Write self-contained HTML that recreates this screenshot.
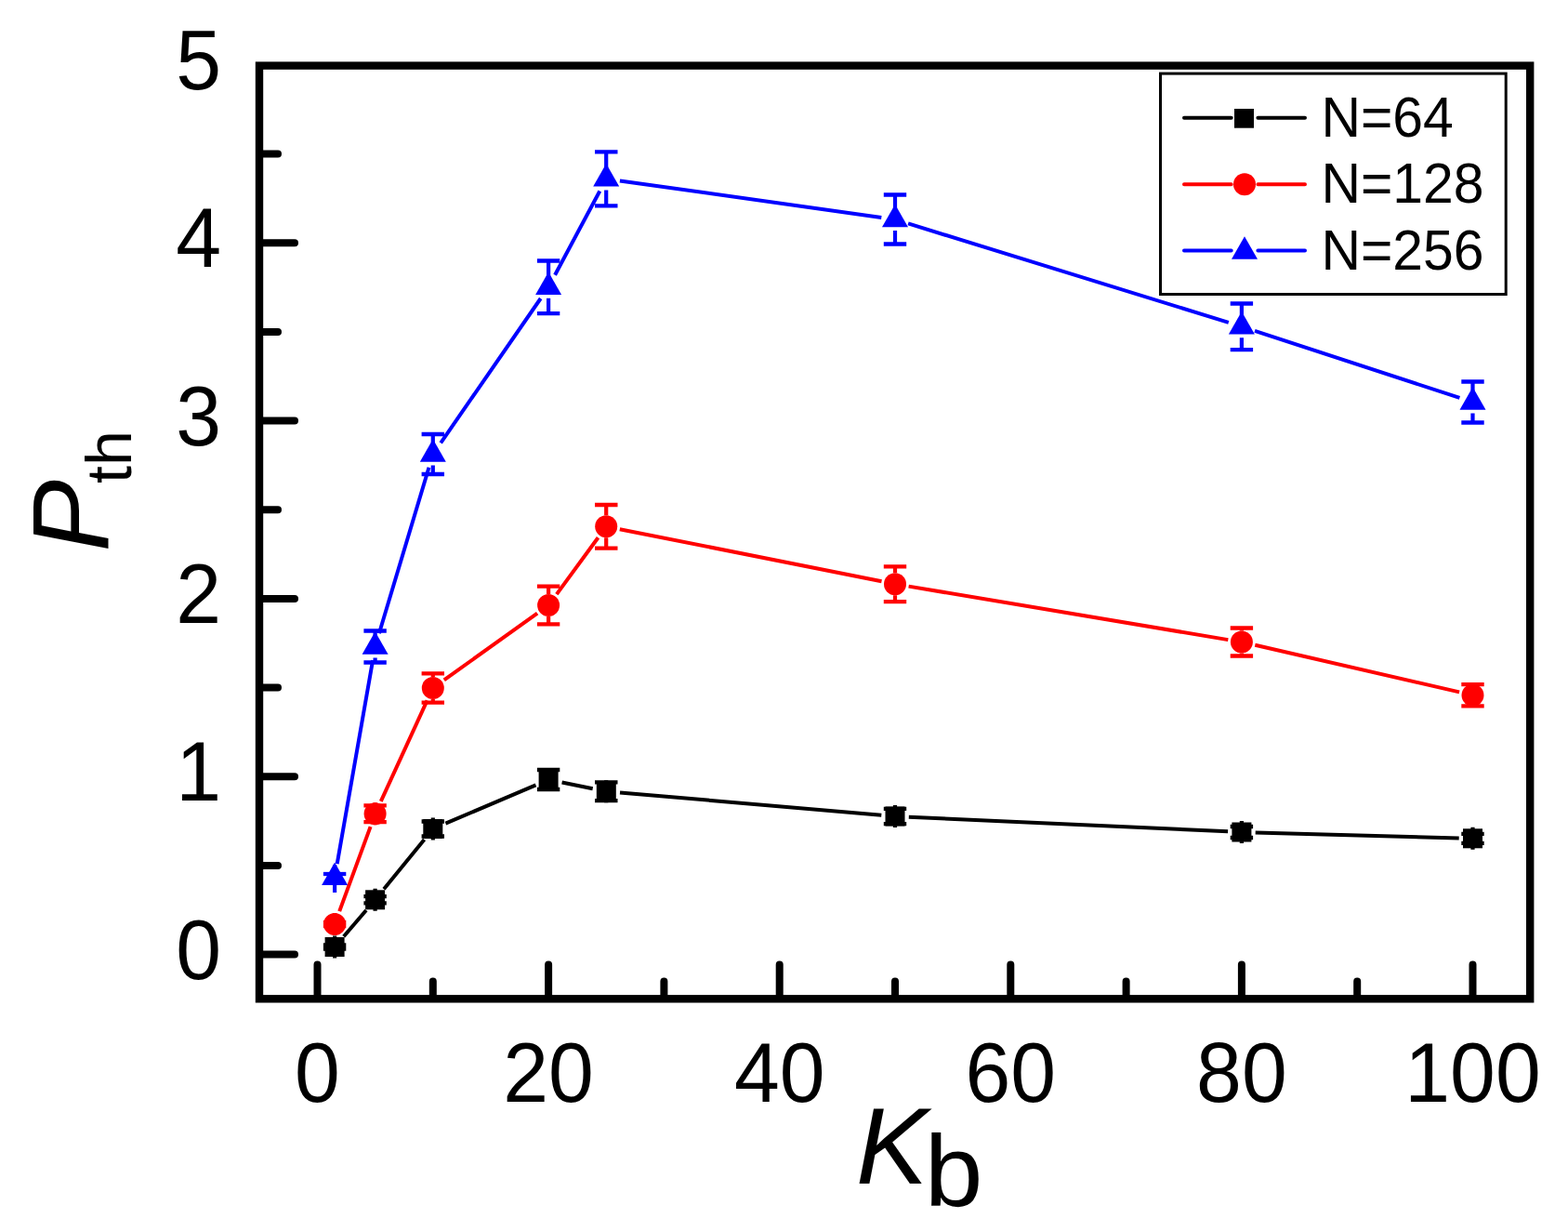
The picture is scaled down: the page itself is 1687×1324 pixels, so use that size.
<!DOCTYPE html><html><head><meta charset="utf-8"><style>html,body{margin:0;padding:0;background:#fff;}svg{display:block;}</style></head><body>
<svg width="1687" height="1324" viewBox="0 0 1687 1324">
<rect x="0" y="0" width="1687" height="1324" fill="#fff"/>
<path d="M369.8 1007.3L394.0 979.0M413.0 956.3L456.5 903.0M479.4 885.7L576.5 844.3M604.6 841.5L637.7 848.2M667.0 852.5L948.3 876.7M977.8 878.7L1321.1 894.3M1350.7 895.4L1569.7 901.4" stroke="#000" stroke-width="4" fill="none" stroke-linecap="butt"/>
<path d="M365.2 980.1L398.6 889.1M409.8 861.8L459.6 753.4M477.8 731.4L578.1 659.6M598.9 639.1L643.5 578.2M666.8 569.2L948.5 625.3M977.6 630.6L1321.3 688.1M1350.3 693.8L1570.1 744.4" stroke="#f00" stroke-width="4" fill="none" stroke-linecap="butt"/>
<path d="M362.7 929.1L401.1 710.1M407.9 681.3L461.5 502.7M474.2 476.3L581.7 321.0M597.1 295.7L645.3 205.5M666.9 194.5L948.3 233.9M977.1 240.4L1321.8 346.9M1350.0 355.9L1570.4 427.9" stroke="#00f" stroke-width="4" fill="none" stroke-linecap="butt"/>
<path d="M360.1 1006.5V1016.5M360.1 1030.5V1020.5M403.6 955.8V964.2M403.6 979.8V971.4M465.8 879.5V883.5M465.8 903.5V899.5M590.1 826.5V828.0M590.1 850.5V849.0M652.2 839.2V841.3M652.2 863.2V861.1M963.0 866.0V869.9M963.0 890.0V886.1M1335.9 883.0V889.0M1335.9 907.0V901.0M1584.5 889.8V896.8M1584.5 913.8V906.8" stroke="#000" stroke-width="4.2" fill="none" stroke-linecap="butt"/>
<path d="M347.9 1016.5H372.3M347.9 1020.5H372.3M391.4 964.2H415.8M391.4 971.4H415.8M453.6 883.5H478.0M453.6 899.5H478.0M577.9 828.0H602.3M577.9 849.0H602.3M640.0 841.3H664.5M640.0 861.1H664.5M950.8 869.9H975.2M950.8 886.1H975.2M1323.7 889.0H1348.1M1323.7 901.0H1348.1M1572.3 896.8H1596.7M1572.3 906.8H1596.7" stroke="#000" stroke-width="4.3" fill="none" stroke-linecap="butt"/>
<path d="M360.1 982.0V992.0M360.1 1006.0V996.0M403.6 863.2V866.3M403.6 887.2V884.1M465.8 728.0V724.3M465.8 752.0V755.7M590.1 639.0V630.7M590.1 663.0V671.3M652.2 554.3V543.0M652.2 578.3V589.6M963.0 616.2V609.3M963.0 640.2V647.1M1335.9 678.5V675.5M1335.9 702.5V705.5M1584.5 735.7V736.1M1584.5 759.7V759.3" stroke="#f00" stroke-width="4.2" fill="none" stroke-linecap="butt"/>
<path d="M347.9 992.0H372.3M347.9 996.0H372.3M391.4 866.3H415.8M391.4 884.1H415.8M453.6 724.3H478.0M453.6 755.7H478.0M577.9 630.7H602.3M577.9 671.3H602.3M640.0 543.0H664.5M640.0 589.6H664.5M950.8 609.3H975.2M950.8 647.1H975.2M1323.7 675.5H1348.1M1323.7 705.5H1348.1M1572.3 736.1H1596.7M1572.3 759.3H1596.7" stroke="#f00" stroke-width="4.3" fill="none" stroke-linecap="butt"/>
<path d="M403.6 683.5V678.5M403.6 707.5V712.5M465.8 476.5V467.0M465.8 500.5V510.0M590.1 296.8V280.5M590.1 320.8V337.1M652.2 180.4V163.4M652.2 204.4V221.4M963.0 224.0V209.5M963.0 248.0V262.5M1335.9 339.3V326.5M1335.9 363.3V376.1M1584.5 420.5V410.5M1584.5 444.5V454.5" stroke="#00f" stroke-width="4.2" fill="none" stroke-linecap="butt"/>
<path d="M391.4 678.5H415.8M391.4 712.5H415.8M453.6 467.0H478.0M453.6 510.0H478.0M577.9 280.5H602.3M577.9 337.1H602.3M640.0 163.4H664.5M640.0 221.4H664.5M950.8 209.5H975.2M950.8 262.5H975.2M1323.7 326.5H1348.1M1323.7 376.1H1348.1M1572.3 410.5H1596.7M1572.3 454.5H1596.7" stroke="#00f" stroke-width="4.3" fill="none" stroke-linecap="butt"/>
<path d="M360.1 930V960" stroke="#00f" stroke-width="4.2" fill="none" stroke-linecap="butt"/><path d="M347.9 940H372.3" stroke="#00f" stroke-width="4.3" fill="none" stroke-linecap="butt"/>
<rect x="349.6" y="1008.0" width="21" height="21" fill="#000"/>
<rect x="393.1" y="957.3" width="21" height="21" fill="#000"/>
<rect x="455.3" y="881.0" width="21" height="21" fill="#000"/>
<rect x="579.6" y="828.0" width="21" height="21" fill="#000"/>
<rect x="641.8" y="840.7" width="21" height="21" fill="#000"/>
<rect x="952.5" y="867.5" width="21" height="21" fill="#000"/>
<rect x="1325.4" y="884.5" width="21" height="21" fill="#000"/>
<rect x="1574.0" y="891.3" width="21" height="21" fill="#000"/>
<circle cx="360.1" cy="994.0" r="12" fill="#f00"/>
<circle cx="403.6" cy="875.2" r="12" fill="#f00"/>
<circle cx="465.8" cy="740.0" r="12" fill="#f00"/>
<circle cx="590.1" cy="651.0" r="12" fill="#f00"/>
<circle cx="652.2" cy="566.3" r="12" fill="#f00"/>
<circle cx="963.0" cy="628.2" r="12" fill="#f00"/>
<circle cx="1335.9" cy="690.5" r="12" fill="#f00"/>
<circle cx="1584.5" cy="747.7" r="12" fill="#f00"/>
<path d="M360.1 927.4L374.1 951.9L346.1 951.9Z" fill="#00f"/>
<path d="M403.6 679.2L417.6 703.7L389.6 703.7Z" fill="#00f"/>
<path d="M465.8 472.2L479.8 496.7L451.8 496.7Z" fill="#00f"/>
<path d="M590.1 292.5L604.1 317.0L576.1 317.0Z" fill="#00f"/>
<path d="M652.2 176.1L666.2 200.6L638.2 200.6Z" fill="#00f"/>
<path d="M963.0 219.7L977.0 244.2L949.0 244.2Z" fill="#00f"/>
<path d="M1335.9 335.0L1349.9 359.5L1321.9 359.5Z" fill="#00f"/>
<path d="M1584.5 416.2L1598.5 440.7L1570.5 440.7Z" fill="#00f"/>
<rect x="279" y="70.6" width="1367.2" height="1003.7" fill="none" stroke="#000" stroke-width="8.4" stroke-linejoin="miter"/>
<path d="M283 1026.5H317M283 835.2H317M283 643.9H317M283 452.6H317M283 261.3H317M283 930.9H299M283 739.5H299M283 548.2H299M283 356.9H299M283 165.6H299M341.5 1070V1037.4M590.1 1070V1037.4M838.7 1070V1037.4M1087.3 1070V1037.4M1335.9 1070V1037.4M1584.5 1070V1037.4M465.8 1070V1055.4M714.4 1070V1055.4M963.0 1070V1055.4M1211.6 1070V1055.4M1460.2 1070V1055.4" stroke="#000" stroke-width="8" stroke-linecap="round" fill="none"/>
<g font-family="Liberation Sans, Arial, sans-serif" font-size="90" fill="#000">
<text transform="translate(238 1052.6) scale(0.975 1)" text-anchor="end">0</text>
<text transform="translate(238 861.3) scale(0.975 1)" text-anchor="end">1</text>
<text transform="translate(238 670.0) scale(0.975 1)" text-anchor="end">2</text>
<text transform="translate(238 478.7) scale(0.975 1)" text-anchor="end">3</text>
<text transform="translate(238 287.4) scale(0.975 1)" text-anchor="end">4</text>
<text transform="translate(238 96.1) scale(0.975 1)" text-anchor="end">5</text>
<text transform="translate(341.5 1184.5) scale(0.975 1)" text-anchor="middle">0</text>
<text transform="translate(590.1 1184.5) scale(0.975 1)" text-anchor="middle">20</text>
<text transform="translate(838.7 1184.5) scale(0.975 1)" text-anchor="middle">40</text>
<text transform="translate(1087.3 1184.5) scale(0.975 1)" text-anchor="middle">60</text>
<text transform="translate(1335.9 1184.5) scale(0.975 1)" text-anchor="middle">80</text>
<text transform="translate(1584.5 1184.5) scale(0.975 1)" text-anchor="middle">100</text>
</g>
<text font-family="Liberation Sans, Arial, sans-serif" fill="#000" font-style="italic" font-size="116" x="921" y="1272.9">K</text>
<text font-family="Liberation Sans, Arial, sans-serif" fill="#000" font-size="110" transform="translate(994.8 1296.9) scale(1.025 1)">b</text>
<text font-family="Liberation Sans, Arial, sans-serif" fill="#000" font-style="italic" font-size="116" transform="translate(115.7 593.6) rotate(-90)">P</text>
<text font-family="Liberation Sans, Arial, sans-serif" fill="#000" font-size="68" transform="translate(140.7 520) rotate(-90)">th</text>
<rect x="1248.5" y="79.1" width="371.7" height="237.4" fill="#fff" stroke="#000" stroke-width="3"/>
<path d="M1274 126.8H1324.7M1353.4 126.8H1404" stroke="#000" stroke-width="4" fill="none" stroke-linecap="round"/>
<path d="M1274 198.2H1324.7M1353.4 198.2H1404" stroke="#f00" stroke-width="4" fill="none" stroke-linecap="round"/>
<path d="M1274 269.5H1324.7M1353.4 269.5H1404" stroke="#00f" stroke-width="4" fill="none" stroke-linecap="round"/>
<rect x="1328" y="117.0" width="21" height="20.7" fill="#000"/>
<circle cx="1339" cy="198.2" r="12" fill="#f00"/>
<path d="M1339.0 254.2L1353.0 278.7L1325.0 278.7Z" fill="#00f"/>
<g font-family="Liberation Sans, Arial, sans-serif" font-size="61" fill="#000" transform="translate(1421.4 0) scale(0.965 1)">
<text x="0" y="146.7">N=64</text>
<text x="0" y="218">N=128</text>
<text x="0" y="290.2">N=256</text>
</g>
</svg></body></html>
